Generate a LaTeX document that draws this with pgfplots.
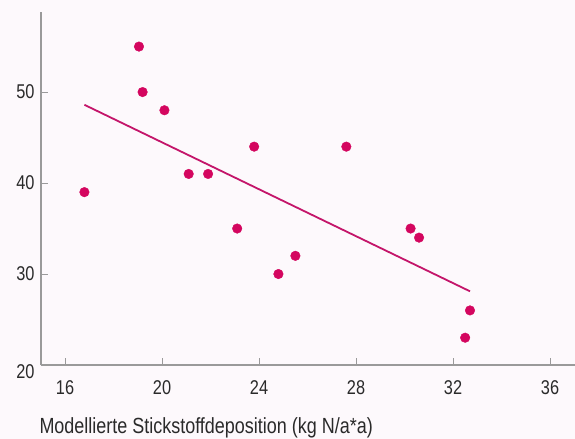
\documentclass[border=0pt]{standalone}
\usepackage{fontspec}
\setmainfont[FakeStretch=0.82]{Liberation Sans}
\usepackage{pgfplots}
\pgfplotsset{compat=1.18}
\definecolor{bg}{HTML}{FDF9FC}
\definecolor{dotc}{HTML}{D4065F}
\definecolor{linec}{HTML}{C4156A}
\definecolor{axc}{HTML}{9A9A9A}
\definecolor{txt}{HTML}{2A2A2A}
\begin{document}
\begin{tikzpicture}
\fill[bg] (-41bp,-74bp) rectangle (534bp,365bp);
\path[use as bounding box] (-41bp,-74bp) rectangle (534bp,365bp);
\begin{axis}[
  scale only axis,
  width=534bp, height=353bp,
  xmin=15.01, xmax=37.03,
  ymin=20, ymax=58.8,
  axis x line=bottom, axis y line=left,
  axis line style={axc, line width=1.3bp, -},
  xtick={16,20,24,28,32,36},
  ytick={30,40,50},
  extra y ticks={20},
  extra y tick style={yticklabel style={yshift=-7bp}, major tick length=0pt},
  tick align=inside,
  major tick length=7bp,
  tick style={axc, line width=1bp},
  every tick label/.append style={font=\fontsize{20}{24}\selectfont, text=txt},
  yticklabel style={xshift=-3bp},
  xticklabel style={yshift=-12bp},
  /pgf/number format/assume math mode=true,
  xlabel={Modellierte Stickstoffdeposition (kg N/a*a)},
  xlabel style={at={(axis description cs:0,0)}, anchor=base west, yshift=-68bp, xshift=-5bp, font=\fontsize{22}{26}\selectfont, text=txt},
  clip=false,
]
\addplot[linec, line width=1.8bp] coordinates {(16.8,48.6) (32.7,28.1)};
\addplot[only marks, mark=*, mark size=4.8bp, mark options={fill=dotc, draw=dotc}] coordinates {
(16.8,39.0) (19.05,55.0) (19.2,50.0) (20.1,48.0) (21.1,41.0) (21.9,41.0)
(23.1,35.0) (23.8,44.0) (24.8,30.0) (25.5,32.0) (27.6,44.0) (30.25,35.0)
(30.6,34.0) (32.7,26.0) (32.5,23.0)
};
\end{axis}
\end{tikzpicture}
\end{document}
